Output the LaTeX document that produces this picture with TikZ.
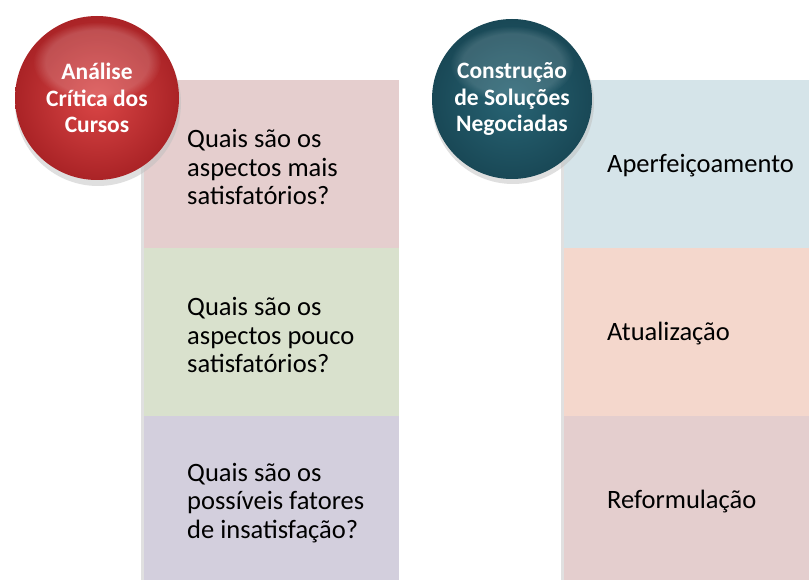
\documentclass[tikz,border=0pt]{standalone}
\usepackage{fontspec}
\setmainfont{Carlito}
\usetikzlibrary{fadings}
\definecolor{boxA}{RGB}{229,206,206}
\definecolor{boxB}{RGB}{217,225,205}
\definecolor{boxC}{RGB}{211,207,221}
\definecolor{boxD}{RGB}{213,228,233}
\definecolor{boxE}{RGB}{244,215,204}
\definecolor{boxF}{RGB}{228,206,206}
\definecolor{redIn}{RGB}{218,70,70}
\definecolor{redOut}{RGB}{170,35,38}
\definecolor{tealIn}{RGB}{40,100,116}
\definecolor{tealOut}{RGB}{25,72,86}
\begin{document}
\begin{tikzpicture}[x=1pt,y=-1pt,
  panel/.style={rectangle, inner sep=0pt, anchor=north west, minimum width=255pt, minimum height=168pt},
  qtext/.style={anchor=west, align=left, inner sep=0pt, font=\fontsize{26.5}{28.3}\selectfont, text=black},
  ctext/.style={align=center, inner sep=0pt, font=\bfseries\fontsize{23.5}{26.5}\selectfont, text=white},
  disc/.style={circle, minimum size=164pt, inner sep=0pt}]
\useasboundingbox (0,0) rectangle (809,580);
\clip (0,0) rectangle (809,580);
% shadows on left edges
\fill[black!12] (141,82) rectangle (145,590);
\fill[black!12] (561,82) rectangle (565,590);
% left column
\node[panel, fill=boxA] (a1) at (144,80) {};
\node[panel, fill=boxB] (a2) at (144,248) {};
\node[panel, fill=boxC] (a3) at (144,416) {};
% right column
\node[panel, fill=boxD] (b1) at (564,80) {};
\node[panel, fill=boxE] (b2) at (564,248) {};
\node[panel, fill=boxF] (b3) at (564,416) {};
% texts
\node[qtext] (ta1) at (187,167) {Quais são os\\aspectos mais\\satisfatórios?};
\node[qtext] (ta2) at (187,335) {Quais são os\\aspectos pouco\\satisfatórios?};
\node[qtext] (ta3) at (187,503) {Quais são os\\possíveis fatores\\de insatisfação?};
\node[qtext] (tb1) at (607,166) {Aperfeiçoamento};
\node[qtext] (tb2) at (607,334) {Atualização};
\node[qtext] (tb3) at (607,502) {Reformulação};
% circles
\fill[black!25, opacity=0.5] (98,103) circle (83);
\shade[inner color=redIn, outer color=redOut] (97,98) circle (82);
\fill[white, path fading=circle with fuzzy edge 20 percent, opacity=0.18] (97,62) ellipse (64 and 40);
\node[disc] (ca) at (97,98) {};
\node[ctext] at (ca) {Análise\\Crítica dos\\Cursos};
\fill[black!25, opacity=0.5] (513,103) circle (81);
\shade[inner color=tealIn, outer color=tealOut] (512,99) circle (80);
\fill[white, path fading=circle with fuzzy edge 20 percent, opacity=0.14] (512,64) ellipse (62 and 38);
\node[disc, minimum size=160pt] (cb) at (512,99) {};
\node[ctext] at (cb) {Construção\\de Soluções\\Negociadas};
\end{tikzpicture}
\end{document}
